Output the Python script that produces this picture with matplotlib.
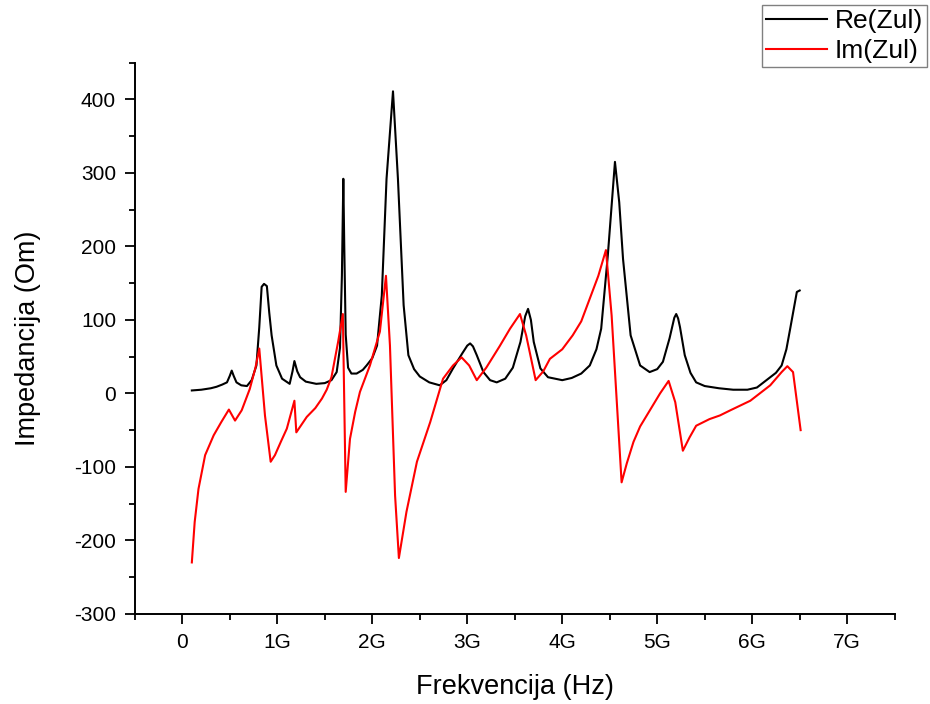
import matplotlib
matplotlib.use('Agg')
import matplotlib.pyplot as plt
from matplotlib.ticker import FuncFormatter, MultipleLocator

plt.rcParams['font.family'] = ['Liberation Sans', 'DejaVu Sans']
plt.rcParams['axes.unicode_minus'] = False

# Re(Zul) - realni dio impedanse (frekvencija u GHz)
f_re = [0.10, 0.20, 0.30, 0.36, 0.42, 0.47, 0.50, 0.52, 0.54, 0.57, 0.62, 0.68, 0.73, 0.78, 0.81,
        0.835, 0.86, 0.89, 0.915, 0.94, 0.99, 1.05, 1.13, 1.16, 1.18, 1.21, 1.24, 1.30, 1.41,
        1.50, 1.57, 1.625, 1.66, 1.68, 1.695, 1.705, 1.72, 1.745, 1.78, 1.835, 1.90, 1.94,
        2.00, 2.05, 2.10, 2.15, 2.218, 2.27, 2.33, 2.38, 2.44, 2.50, 2.60, 2.71, 2.78, 2.85,
        2.95, 3.00, 3.03, 3.06, 3.10, 3.17, 3.24, 3.31, 3.40, 3.48, 3.56, 3.61, 3.64, 3.67,
        3.70, 3.77, 3.85, 4.00, 4.10, 4.20, 4.29, 4.36, 4.41, 4.48, 4.555, 4.60, 4.64, 4.72,
        4.82, 4.92, 5.00, 5.06, 5.13, 5.18, 5.20, 5.22, 5.24, 5.29, 5.35, 5.41, 5.50, 5.65,
        5.80, 5.95, 6.05, 6.15, 6.25, 6.31, 6.36, 6.40, 6.47, 6.50]
re_zul = [4, 5, 7, 9, 12, 15, 24, 31, 24, 15, 11, 10, 18, 38, 90,
          145, 149, 146, 110, 79, 38, 20, 13, 30, 44, 30, 22, 16, 13,
          14, 18, 29, 62, 160, 292, 200, 80, 35, 27, 27, 32, 38,
          48, 65, 133, 292, 411, 292, 120, 52, 33, 23, 15, 11, 18, 34,
          55, 65, 68, 64, 52, 29, 18, 15, 20, 35, 70, 105, 115, 100,
          70, 34, 22, 18, 21, 27, 38, 60, 88, 188, 315, 260, 183, 79,
          38, 29, 33, 43, 75, 103, 108, 102, 90, 52, 28, 15, 10, 7,
          5, 5, 8, 18, 28, 38, 60, 88, 138, 140]

# Im(Zul) - imaginarni dio impedanse
f_im = [0.10, 0.13, 0.17, 0.24, 0.33, 0.41, 0.49, 0.555, 0.625, 0.71, 0.77, 0.81, 0.87, 0.93,
        0.975, 1.04, 1.10, 1.18, 1.20, 1.31, 1.40, 1.47, 1.52, 1.57, 1.64, 1.69, 1.72, 1.765,
        1.82, 1.87, 1.975, 2.08, 2.144, 2.186, 2.24, 2.28, 2.36, 2.47, 2.61, 2.745, 2.85,
        2.94, 3.02, 3.10, 3.20, 3.34, 3.45, 3.555, 3.62, 3.72, 3.80, 3.87, 4.00, 4.11, 4.20,
        4.29, 4.38, 4.46, 4.52, 4.625, 4.68, 4.75, 4.82, 4.89, 5.03, 5.12, 5.19, 5.27, 5.34,
        5.41, 5.55, 5.66, 5.77, 5.98, 6.19, 6.31, 6.37, 6.43, 6.51]
im_zul = [-230, -175, -130, -84, -57, -39, -22, -37, -23, 6, 35, 61, -30, -93,
          -84, -65, -48, -10, -53, -32, -20, -7, 5, 22, 70, 108, -134, -62,
          -25, 2, 38, 84, 160, 65, -139, -224, -161, -93, -39, 20, 38,
          49, 38, 18, 35, 64, 88, 108, 79, 18, 30, 47, 60, 79, 98,
          129, 160, 195, 106, -121, -95, -66, -45, -30, 0, 17, -12, -78, -60,
          -44, -35, -30, -23, -10, 11, 29, 37, 29, -50]

fig = plt.figure(figsize=(9.3, 7.04), dpi=100)
ax = fig.add_axes([0.145, 0.128, 0.817, 0.783])

# frekvencija u Hz
ax.plot([f * 1e9 for f in f_re], re_zul, color='black', linewidth=1.5, label='Re(Zul)')
ax.plot([f * 1e9 for f in f_im], im_zul, color='red', linewidth=1.5, label='Im(Zul)')

ax.set_xlim(-0.5e9, 7.5e9)
ax.set_ylim(-300, 450)

ax.xaxis.set_major_locator(MultipleLocator(1e9))
ax.xaxis.set_minor_locator(MultipleLocator(0.5e9))
ax.yaxis.set_major_locator(MultipleLocator(100))
ax.yaxis.set_minor_locator(MultipleLocator(50))

def hz_fmt(v, pos):
    g = int(round(v / 1e9))
    return '0' if g == 0 else f'{g}G'

ax.xaxis.set_major_formatter(FuncFormatter(hz_fmt))

ax.spines['top'].set_visible(False)
ax.spines['right'].set_visible(False)
for s in ['left', 'bottom']:
    ax.spines[s].set_linewidth(1.4)

ax.tick_params(which='major', direction='out', length=7.5, width=1.3, labelsize=15, pad=6)
ax.tick_params(which='minor', direction='out', length=4.5, width=1.3)

ax.set_xlabel('Frekvencija (Hz)', fontsize=19.5, labelpad=16)
ax.set_ylabel('Impedancija (Om)', fontsize=19.5, labelpad=24)

leg = fig.legend(loc='upper right', bbox_to_anchor=(0.9965, 0.993), fontsize=19,
                 frameon=True, fancybox=False, shadow=False, borderpad=0.15,
                 handlelength=2.3, handletextpad=0.3, labelspacing=0.25,
                 borderaxespad=0)
leg.get_frame().set_edgecolor('#606060')
leg.get_frame().set_linewidth(1.0)

plt.savefig('out.png', dpi=100)
plt.close(fig)
